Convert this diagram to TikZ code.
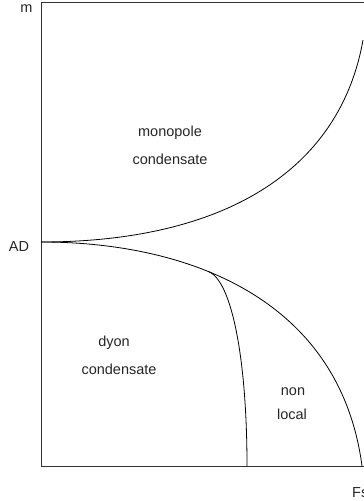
\documentclass[tikz,border=0pt]{standalone}
\usepackage{fontspec}
\setmainfont{Liberation Sans}
\begin{document}
\begin{tikzpicture}[x=1pt,y=-1pt,
  lbl/.style={font=\fontsize{14.5}{16}\selectfont, inner sep=0pt, text=black!85},
  frameline/.style={line width=0.8pt, draw=black!80},
  curve/.style={line width=0.8pt, draw=black}]
\useasboundingbox (0,0) rectangle (364,501);
% frame
\coordinate (tr) at (364,2);
\coordinate (tl) at (41,2);
\coordinate (bl) at (41,466);
\coordinate (br) at (364,466);
\draw[frameline] (tr) -- (tl) -- (bl) -- (br);
% key points
\coordinate (ad) at (41,242);
\coordinate (mtop) at (363,40);
\coordinate (lend) at (362,466);
\coordinate (junc) at (208,271.2);
\coordinate (iend) at (247,466);
\draw[curve] (ad) .. controls (225,242) and (340,170) .. (mtop);
\draw[curve] (ad) .. controls (190,242) and (340,300) .. (lend);
\draw[curve] (junc) .. controls (232,280.2) and (247,360) .. (iend);
% labels
\node[lbl] (m) at (26.5,9) {m};
\node[lbl] (adl) at (19,246.5) {AD};
\node[lbl] (mono) at (170,133) {monopole};
\node[lbl] (monoc) at (170,159) {condensate};
\node[lbl] (dyon) at (114,343) {dyon};
\node[lbl] (dyonc) at (119,369) {condensate};
\node[lbl] (non) at (293,392) {non};
\node[lbl] (local) at (292,414) {local};
\node[lbl, anchor=base west] (fs) at (352,497) {Fs};
\end{tikzpicture}
\end{document}
